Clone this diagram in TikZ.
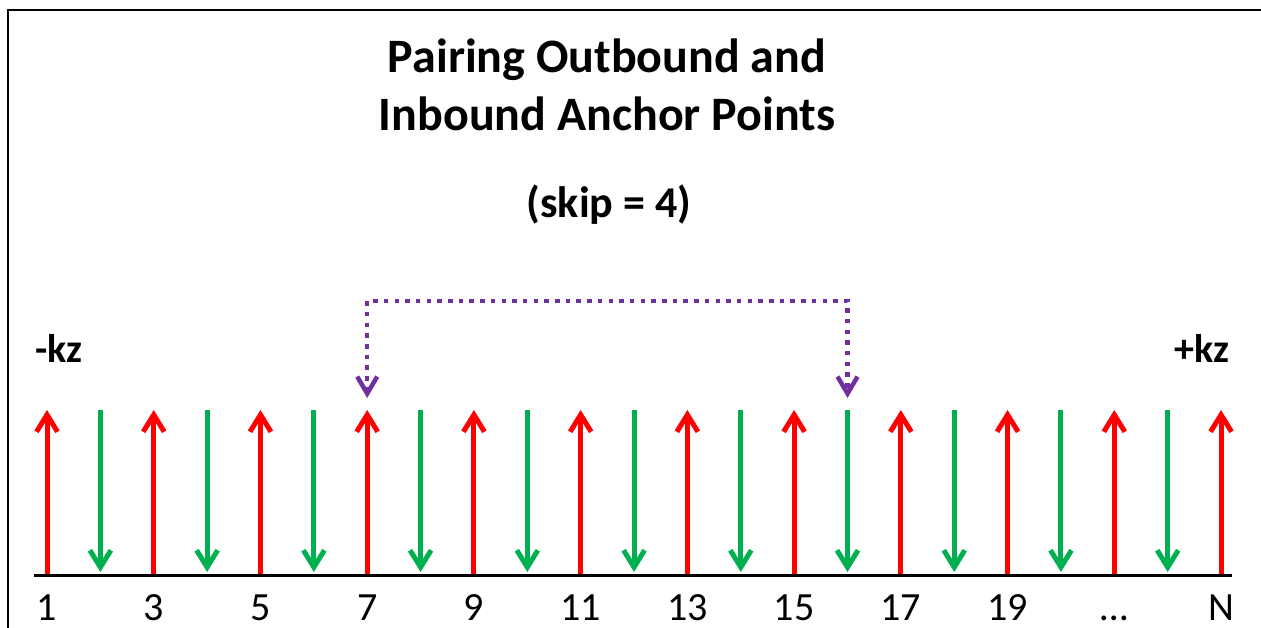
\documentclass[tikz,border=0pt]{standalone}
\usepackage{fontspec}
\setmainfont{Carlito}
\usetikzlibrary{arrows.meta}
\definecolor{outred}{RGB}{255,0,0}
\definecolor{ingreen}{RGB}{0,176,80}
\definecolor{pairpurple}{RGB}{112,48,160}
\tikzset{
  outarr/.style={draw=outred, line width=5pt, -{Straight Barb[length=17pt, width=21pt]}},
  inarr/.style={draw=ingreen, line width=5pt, -{Straight Barb[length=17pt, width=21pt]}},
  pairarr/.style={draw=pairpurple, line width=4.5pt, dash pattern=on 4.5pt off 6.2pt,
    {Straight Barb[length=17pt, width=20pt]}-{Straight Barb[length=17pt, width=20pt]}},
  ttl/.style={font=\fontsize{48}{58}\selectfont\bfseries, anchor=base, inner sep=0pt},
  endlbl/.style={font=\fontsize{40}{48}\selectfont\bfseries, inner sep=0pt},
  numlbl/.style={font=\fontsize{40}{48}\selectfont, anchor=base, inner sep=0pt}
}

\begin{document}
\begin{tikzpicture}[x=1pt, y=-1pt]
    \useasboundingbox (0,0) rectangle (1261,628);
    \draw[line width=2pt] (8,628) -- (8,10) -- (1261,10);
    % title
    \node[ttl] (title1) at (607,73) {Pairing Outbound and};
    \node[ttl] (title2) at (607,131) {Inbound Anchor Points};
    \node[ttl, font=\fontsize{44}{52}\selectfont\bfseries] (skip) at (609,218) {(skip = 4)};
    % ends of the axis
    \node[endlbl, anchor=base west] (minkz) at (35,362) {-kz};
    \node[endlbl, anchor=base east] (pluskz) at (1230,362) {+kz};
    % outbound (red) and inbound (green) arrows
    \foreach \k in {0,...,11} {
      \coordinate (ob\k) at ({47+106.73*\k},574);
      \coordinate (ot\k) at ({47+106.73*\k},410);
      \draw[outarr] (ob\k) -- (ot\k);
    }
    \foreach \k in {0,...,10} {
      \coordinate (it\k) at ({100.4+106.73*\k},410);
      \coordinate (ib\k) at ({100.4+106.73*\k},572);
      \draw[inarr] (it\k) -- (ib\k);
    }
    % axis
    \coordinate (axl) at (34,575);
    \coordinate (axr) at (1232,575);
    \draw[line width=3pt] (axl) -- (axr);
    \foreach \lbl [count=\k from 0] in {1,3,5,7,9,11,13,15,17,19,{\ldots},N}
      \node[numlbl] (num\k) at ({47+106.73*\k},620) {\lbl};
    % pairing 7 -> 16
    \coordinate (p7) at (ot3 |- 0,398);
    \coordinate (p16) at (it7 |- 0,398);
    \coordinate (ptop) at (0,301);
    \draw[pairarr] (p7) -- (p7 |- ptop) -- (p16 |- ptop) -- (p16);
\end{tikzpicture}
\end{document}
